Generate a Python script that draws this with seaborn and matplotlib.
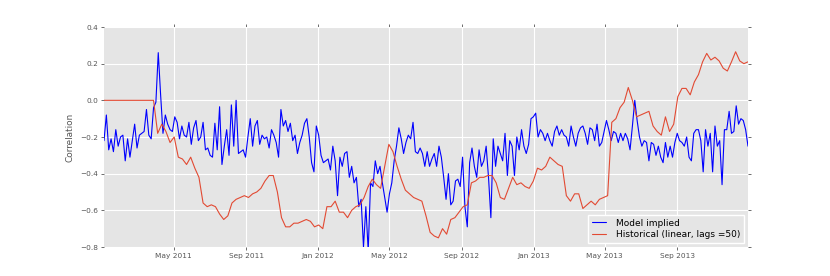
import matplotlib
matplotlib.use("Agg")
import matplotlib.pyplot as plt
import matplotlib.dates as mdates
import pandas as pd
import seaborn as sns

# ---- data ----
start_date = "2011-01-03"
model_step = "4D"
hist_step = "7D"

model_implied = [
    -0.22, -0.08, -0.27, -0.21, -0.28, -0.16, -0.25, -0.20, -0.19, -0.33,
    -0.21, -0.31, -0.22, -0.13, -0.26, -0.19, -0.18, -0.17, -0.05, -0.19,
    -0.21, -0.04, -0.01, 0.26, 0.03, -0.18, -0.08, -0.13, -0.16, -0.17,
    -0.09, -0.12, -0.21, -0.14, -0.19, -0.20, -0.12, -0.24, -0.15, -0.11,
    -0.22, -0.20, -0.12, -0.27, -0.26, -0.30,
    -0.31, -0.125, -0.27, -0.035, -0.35, -0.25, -0.16, -0.30, -0.025, -0.25,
    0.0, -0.29, -0.28, -0.27, -0.31, -0.20, -0.10, -0.25, -0.14, -0.11,
    -0.24, -0.19, -0.21, -0.20, -0.26, -0.16, -0.19, -0.23, -0.31, -0.05,
    -0.14, -0.11, -0.17, -0.125, -0.22, -0.19, -0.29, -0.23, -0.19, -0.125,
    -0.10, -0.20, -0.34, -0.39, -0.14,
    -0.19, -0.30, -0.34, -0.33, -0.32, -0.38, -0.25, -0.33, -0.52, -0.31,
    -0.36, -0.29, -0.28, -0.42, -0.36, -0.45, -0.42, -0.58, -0.54, -0.80,
    -0.58, -0.82, -0.45, -0.47, -0.33, -0.40, -0.36, -0.45, -0.53, -0.61,
    -0.51, -0.45, -0.33, -0.25, -0.15, -0.21, -0.29, -0.23, -0.19, -0.21,
    -0.12, -0.28, -0.29, -0.26, -0.29,
    -0.36, -0.28, -0.36, -0.32, -0.29, -0.36, -0.25, -0.31, -0.42, -0.54,
    -0.40, -0.57, -0.55, -0.44, -0.43, -0.47, -0.31, -0.58, -0.69, -0.34,
    -0.26, -0.36, -0.42, -0.27, -0.36, -0.33, -0.25, -0.42, -0.64, -0.21,
    -0.36, -0.25, -0.29, -0.33, -0.18, -0.41, -0.22, -0.25, -0.41, -0.20,
    -0.27, -0.16, -0.25, -0.29, -0.24, -0.10,
    -0.09, -0.07, -0.20, -0.16, -0.18, -0.22, -0.18, -0.22,
    -0.25, -0.17, -0.14, -0.19, -0.16, -0.19, -0.20, -0.25, -0.14, -0.20,
    -0.25, -0.18, -0.15, -0.14, -0.18, -0.24, -0.15, -0.16, -0.22, -0.13,
    -0.25, -0.23, -0.17, -0.11, -0.16, -0.22, -0.17, -0.18, -0.23, -0.18,
    -0.22, -0.18, -0.21, -0.27, -0.14, 0.0, -0.11, -0.20, -0.25, -0.22,
    -0.23, -0.33, -0.23, -0.24, -0.30, -0.25, -0.31, -0.34, -0.23, -0.31,
    -0.25, -0.31, -0.23, -0.18, -0.22, -0.23, -0.25, -0.20, -0.31, -0.33,
    -0.18, -0.16, -0.16, -0.22, -0.39, -0.16, -0.25, -0.18, -0.39, -0.14,
    -0.25, -0.22, -0.46, -0.16, -0.16, -0.06, -0.18, -0.17, -0.03, -0.13,
    -0.10, -0.11, -0.16, -0.25,
]

historical = [
    0.0, 0.0, 0.0, 0.0, 0.0, 0.0, 0.0, 0.0, 0.0, 0.0, 0.0, 0.0, 0.0,
    -0.18, -0.13, -0.17, -0.23, -0.20, -0.31, -0.32, -0.35, -0.31, -0.37,
    -0.42, -0.56, -0.58,
    -0.57, -0.58, -0.62, -0.65, -0.63, -0.56, -0.54, -0.53, -0.52, -0.53,
    -0.51, -0.50, -0.48, -0.44, -0.41, -0.41, -0.50, -0.64, -0.69, -0.69,
    -0.67, -0.67, -0.66, -0.65, -0.66, -0.69,
    -0.68, -0.70, -0.58, -0.58, -0.55, -0.61, -0.61, -0.64, -0.60, -0.58,
    -0.57, -0.53, -0.47, -0.43, -0.46, -0.48, -0.36, -0.24, -0.28, -0.36,
    -0.43, -0.49, -0.51, -0.53, -0.54, -0.55,
    -0.63, -0.72, -0.74, -0.75, -0.70, -0.73, -0.65, -0.64, -0.61, -0.58,
    -0.57, -0.45, -0.44, -0.42, -0.42, -0.41, -0.41, -0.45, -0.53, -0.54,
    -0.48, -0.42, -0.46, -0.45, -0.47, -0.48,
    -0.44, -0.37, -0.38, -0.36, -0.31,
    -0.33, -0.35, -0.36, -0.52, -0.55, -0.51, -0.51, -0.59, -0.57, -0.55,
    -0.57, -0.54, -0.53, -0.52, -0.12, -0.10, -0.04, -0.01, 0.07, 0.0,
    -0.09, -0.08, -0.07, -0.06, -0.14, -0.17, -0.19, -0.09, -0.17, -0.13,
    0.02, 0.065, 0.065, 0.03, 0.10, 0.14, 0.21, 0.256, 0.22, 0.235,
    0.215, 0.175, 0.16, 0.21, 0.265, 0.215, 0.20, 0.21,
]

series_labels = ["Model implied", "Historical (linear, lags =50)"]
y_ticks = [-0.8, -0.6, -0.4, -0.2, 0.0, 0.2, 0.4]
y_label = "Correlation"

model_dates = pd.date_range(start_date, periods=len(model_implied), freq=model_step)
hist_dates = pd.date_range(start_date, periods=len(historical), freq=hist_step)
df_model = pd.DataFrame({"date": model_dates, "value": model_implied})
df_hist = pd.DataFrame({"date": hist_dates, "value": historical})

# ---- style ----
sns.set_theme(style="darkgrid", rc={
    "axes.facecolor": "#E5E5E5",
    "grid.color": "white",
    "figure.facecolor": "white",
})
plt.rcParams["font.family"] = ["DejaVu Sans"]

fig = plt.figure(figsize=(8.3, 2.76), dpi=100)
ax = fig.add_axes([104 / 830, 1 - 247 / 276, (748 - 104) / 830, 220 / 276])
ax.set_facecolor("#E5E5E5")

sns.lineplot(data=df_model, x="date", y="value", color="#0000FF", lw=0.8,
             label=series_labels[0], ax=ax)
sns.lineplot(data=df_hist, x="date", y="value", color="#E24A33", lw=0.8,
             label=series_labels[1], ax=ax)

ax.set_xlim(model_dates[0], model_dates[-1])
ax.set_ylim(-0.8, 0.4)
ax.set_yticks(y_ticks)
ax.xaxis.set_major_locator(mdates.MonthLocator(bymonth=[1, 5, 9]))
ax.xaxis.set_major_formatter(mdates.DateFormatter("%b %Y"))

ax.grid(True, color="white", lw=0.8)
for s in ax.spines.values():
    s.set_visible(False)
ax.tick_params(axis="both", which="major", direction="out", length=2.2, width=0.6,
               color="#555555", labelcolor="#555555", labelsize=5.3, pad=2,
               top=True, right=True, bottom=True, left=True)
ax.set_xlabel("")
ax.set_ylabel(y_label, fontsize=6.4, color="#555555", labelpad=4)

leg = ax.legend(loc="lower right", fontsize=6.5, frameon=True, fancybox=False,
                facecolor="#E5E5E5", edgecolor="white", framealpha=1,
                handlelength=1.6, handletextpad=1.1, labelspacing=0.3,
                borderaxespad=0.45)
for t in leg.get_texts():
    t.set_color("black")

fig.savefig("out.png", dpi=100)
